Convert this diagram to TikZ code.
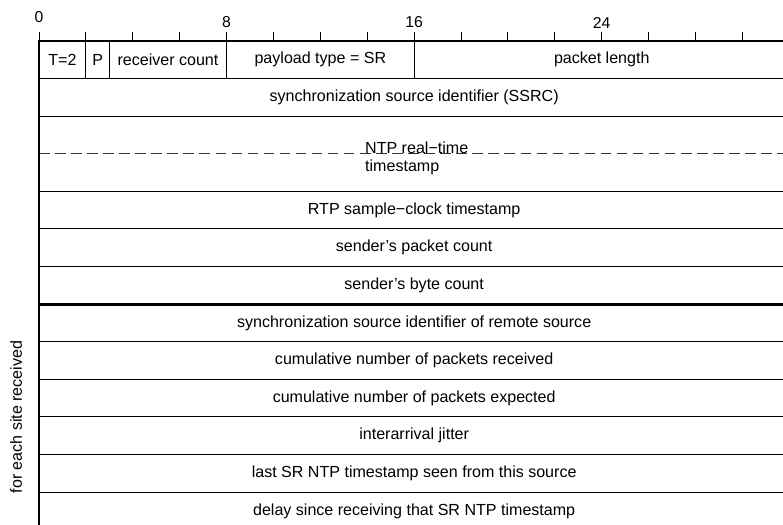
\documentclass[tikz,border=0pt]{standalone}
\usepackage{fontspec}
\setmainfont{Liberation Sans}

\begin{document}
\begin{tikzpicture}[x=0.5956cm, y=0.955cm, font=\fontsize{11.6}{13}\selectfont,
  thinrule/.style={line width=0.7pt},
  heavyrule/.style={line width=2.1pt},
  splitrule/.style={line width=0.7pt, black!80, dash pattern=on 7.6pt off 4pt},
  bitmark/.style={line width=0.7pt},
  bitlabel/.style={font=\fontsize{11.4}{13}\selectfont},
  field/.style={inner sep=0pt}]

\clip (-1.663,1.09) rectangle (31.73,-12.872);

% Bit ruler
\foreach \b in {0,2,...,30}
  \draw[bitmark] (\b,0) -- (\b,0.24);
\node[bitlabel] (bit0) at (0,0.625) {0};
\foreach \b in {8,16,24}
  \node[bitlabel] (bit\b) at (\b,0.49) {\b};

% First word
\foreach \b in {2,3,8,16}
  \draw[thinrule] (\b,0) -- (\b,-1);
\node[field] (ver)   at (1,-0.5)   {T=2};
\node[field] (pad)   at (2.5,-0.5) {P};
\node[field] (count) at (5.5,-0.5) {receiver count};
\node[field] (ptype) at (12,-0.5)  {payload type = SR};
\node[field] (len)   at (24,-0.5)  {packet length};

% Row lines
\foreach \r in {1,2,4,5,6,8,9,10,11,12,13}
  \draw[thinrule] (0,-\r) -- (32,-\r);
\draw[splitrule] (0,-3) -- (32,-3);
\draw[heavyrule] (0,-7) -- (32,-7);
\draw[heavyrule] (32,0) -- (0,0) -- (0,-13.5);

% Sender info
\node[field] (ssrc) at (16,-1.5) {synchronization source identifier (SSRC)};
\node[field, anchor=base west] (ntpa) at (13.9,-3) {NTP real−time};
\node[field, anchor=base west] (ntpb) at (13.9,-3.48) {timestamp};
\node[field] (rtpts) at (16,-4.5) {RTP sample−clock timestamp};
\node[field] (pkts)  at (16,-5.5) {sender's packet count};
\node[field] (bytes) at (16,-6.5) {sender's byte count};

% Report blocks
\node[field] (remote)   at (16,-7.5)  {synchronization source identifier of remote source};
\node[field] (received) at (16,-8.5)  {cumulative number of packets received};
\node[field] (expected) at (16,-9.5)  {cumulative number of packets expected};
\node[field] (jitter)   at (16,-10.5) {interarrival jitter};
\node[field] (lsr)      at (16,-11.5) {last SR NTP timestamp seen from this source};
\node[field] (dlsr)     at (16,-12.5) {delay since receiving that SR NTP timestamp};

\node[rotate=90] (each) at (-0.98,-10) {for each site received};

\end{tikzpicture}
\end{document}
